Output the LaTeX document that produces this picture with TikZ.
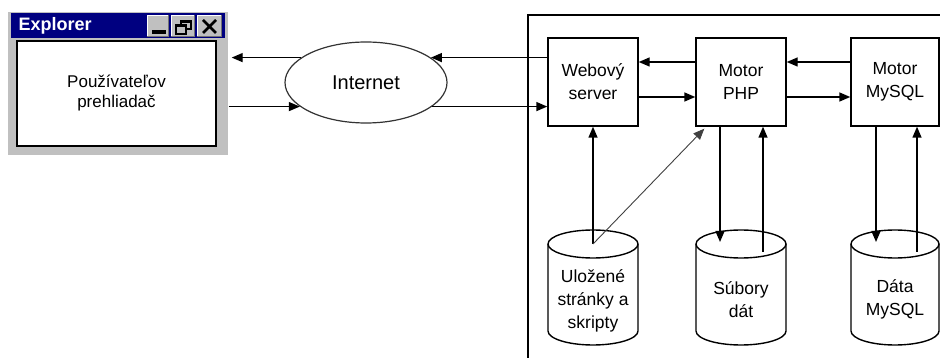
\documentclass[tikz,border=0pt]{standalone}
\usepackage{fontspec}
\setmainfont{Liberation Sans}
\usetikzlibrary{shapes.geometric,arrows.meta}
\definecolor{wingray}{HTML}{C0C0C0}
\definecolor{winnavy}{HTML}{000080}
\begin{document}
\begin{tikzpicture}[x=1pt,y=-1pt,
  line width=1.4pt,
  txt/.style={font=\fontsize{17.5}{23}\selectfont, align=center, inner sep=0pt},
  box/.style={draw, minimum width=90pt, minimum height=88pt, inner sep=0pt, txt},
  arr/.style={-{Triangle[length=11pt,width=9pt]}},
  topell/.style={ellipse, draw, fill=white, minimum width=90pt, minimum height=28pt, inner sep=0pt},
  btn/.style={fill=wingray, minimum width=20pt, minimum height=20pt, inner sep=0pt},
]
\useasboundingbox (0,0) rectangle (940,358);
\clip (0,0) rectangle (940,358);

% --- Explorer window ---
\node[fill=wingray, minimum width=220pt, minimum height=143pt, inner sep=0pt] (expl) at (118,83.5) {};
\node[fill=winnavy, minimum width=214pt, minimum height=25pt, inner sep=0pt] (title) at (118,25.5) {};
\node[font=\bfseries\fontsize{18}{20}\selectfont, text=white, anchor=west, inner sep=0pt] (ttl) at (18,26) {Explorer};
\node[draw, fill=white, minimum width=199pt, minimum height=105pt, inner sep=0pt,
      font=\fontsize{17}{20}\selectfont, align=center] (content) at (116.5,93.5) {Používateľov\\prehliadač};

\node[btn] (bmin) at (158,26) {};
\node[btn, minimum width=22pt] (bres) at (183,26) {};
\node[btn, minimum width=23pt] (bcls) at (209.5,26) {};
\foreach \b in {bmin,bres,bcls}{
  \draw[white, line width=1pt] (\b.south west) -- (\b.north west) -- (\b.north east);
  \draw[black!55, line width=1pt] (\b.north east) -- (\b.south east) -- (\b.south west);
}
\fill (152,30) rectangle (166,34);
\draw[line width=1.2pt] (181,21) rectangle (191,29);
\fill (181,20) rectangle (191,23);
\fill[wingray] (176,25) rectangle (186,34);
\draw[line width=1.2pt] (176,25) rectangle (186,34);
\fill (176,24) rectangle (186,27);
\draw[line width=2.6pt] (203,20) -- (216,33) (216,20) -- (203,33);

% --- Internet ---
\node[ellipse, draw=black!80, line width=1.2pt, minimum width=162pt, minimum height=81pt, inner sep=0pt,
      font=\fontsize{20}{22}\selectfont] (inet) at (366,82.5) {Internet};

% --- server frame ---
\draw (528,370) -- (528,15) -- (950,15);

% --- boxes ---
\node[box] (web) at (593,82) {Webový\\server};
\node[box] (php) at (741,82) {Motor\\PHP};
\node[box, minimum width=88pt] (mys) at (895,82) {Motor\\MySQL};

% --- cylinders ---
\draw (548,244) -- (548,331) .. controls (548,338.7) and (568.15,345) .. (593,345)
      .. controls (617.85,345) and (638,338.7) .. (638,331) -- (638,244);
\draw (696,244) -- (696,331) .. controls (696,338.7) and (716.15,345) .. (741,345)
      .. controls (765.85,345) and (786,338.7) .. (786,331) -- (786,244);
\draw (851,244) -- (851,331) .. controls (851,338.7) and (870.7,345) .. (895,345)
      .. controls (919.3,345) and (939,338.7) .. (939,331) -- (939,244);
\node[topell] (uloTop) at (593,244) {};
\node[topell] (subTop) at (741,244) {};
\node[topell, minimum width=88pt] (datTop) at (895,244) {};
\node[txt] (ulo) at (593,301) {Uložené\\stránky a\\skripty};
\node[txt] (sub) at (741,300) {Súbory\\dát};
\node[txt] (dat) at (895,299) {Dáta\\MySQL};

% --- connectors ---
\draw[arr] (inet.159) -- ([xshift=3pt]expl.east |- inet.159);
\draw[arr] (expl.east |- inet.200) -- (inet.200);
\draw[arr] (web.west |- inet.21) -- (inet.21);
\draw[arr] (inet.340) -- (web.west |- inet.340);

\draw[arr] (php.west |- 0,62) -- (web.east |- 0,62);
\draw[arr] (web.east |- 0,97) -- (php.west |- 0,97);
\draw[arr] (mys.west |- 0,62) -- (php.east |- 0,62);
\draw[arr] (php.east |- 0,97) -- (mys.west |- 0,97);

\draw[arr] (uloTop.center) -- (web.south);
\draw[arr] ([xshift=-21pt]php.south) -- ([xshift=-21pt,yshift=2pt]subTop.center);
\draw[arr] ([xshift=22pt,yshift=-8pt]subTop.center) -- ([xshift=22pt]php.south);
\draw[arr] ([xshift=-19pt]mys.south) -- ([xshift=-19pt,yshift=2pt]datTop.center);
\draw[arr] ([xshift=22pt,yshift=-8pt]datTop.center) -- ([xshift=22pt]mys.south);
\draw[arr, black!75, line width=0.9pt] (uloTop.center) -- ([xshift=9pt,yshift=-2pt]php.south west);
\end{tikzpicture}
\end{document}
